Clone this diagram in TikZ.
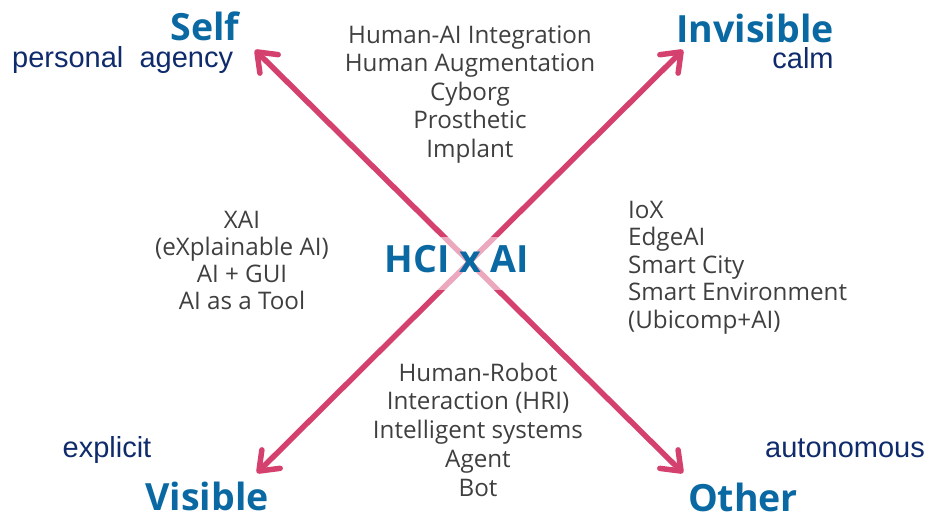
\documentclass[tikz,border=0pt]{standalone}
\usepackage{fontspec}
\setmainfont{Open Sans}
\newfontfamily\arialf{Liberation Sans}
\usetikzlibrary{arrows.meta}
\definecolor{ttl}{HTML}{0A69A2}
\definecolor{navy}{HTML}{0F2B6C}
\definecolor{gtxt}{HTML}{3F3F3F}
\definecolor{pinkc}{HTML}{D5416F}
\tikzset{
  ttlf/.style={font=\fontsize{37.5}{44}\selectfont\bfseries, text=ttl, inner sep=0pt},
  subf/.style={font=\arialf\fontsize{29}{32}\selectfont, text=navy, inner sep=0pt},
  lst/.style={font=\fontsize{24.2}{#1}\selectfont, text=gtxt, inner sep=0pt},
  arr/.style={draw=pinkc, line width=5.5pt, line cap=round,
    {Straight Barb[length=17pt,width=26pt,round]}-{Straight Barb[length=17pt,width=26pt,round]}},
}
\begin{document}
\begin{tikzpicture}[x=1pt,y=-1pt]
\useasboundingbox (0,0) rectangle (930,512);
\coordinate (tSelf) at (255,50);
\coordinate (tOther) at (683,473);
\coordinate (tInv) at (683,50);
\coordinate (tVis) at (257,473);
\draw[arr] (tSelf) -- (tOther);
\draw[arr] (tVis) -- (tInv);
\node[ttlf, anchor=base, fill=white, fill opacity=0.55, text opacity=1, inner xsep=4pt,
  text height=35pt, text depth=18pt] (hci) at (457,272) {HCI x AI};
\node[ttlf, anchor=base] (self) at (205,40) {Self};
\node[ttlf, anchor=base] (inv) at (755,42) {Invisible};
\node[ttlf, anchor=base] (vis) at (207,510) {Visible};
\node[ttlf, anchor=base] (oth) at (743,511) {Other};
\node[subf, anchor=base west] (pers) at (12,67) {personal\ \ agency};
\node[subf, anchor=base] (calm) at (803,68) {calm};
\node[subf, anchor=base] (expl) at (107,457) {explicit};
\node[subf, anchor=base] (auto) at (845,457) {autonomous};
\node[lst=28.5, anchor=base, align=center] (top) at (470,157)
  {Human-AI Integration\\Human Augmentation\\Cyborg\\Prosthetic\\Implant};
\node[lst=27, anchor=base, align=center] (left) at (242,309)
  {XAI\\(eXplainable AI)\\AI + GUI\\AI as a Tool};
\node[lst=27.5, anchor=base west, align=left] (right) at (628,328)
  {IoX\\EdgeAI\\Smart City\\Smart Environment\\(Ubicomp+AI)};
\node[lst=28.75, anchor=base, align=center] (bot) at (478,496)
  {Human-Robot\\Interaction (HRI)\\Intelligent systems\\Agent\\Bot};
\end{tikzpicture}
\end{document}
